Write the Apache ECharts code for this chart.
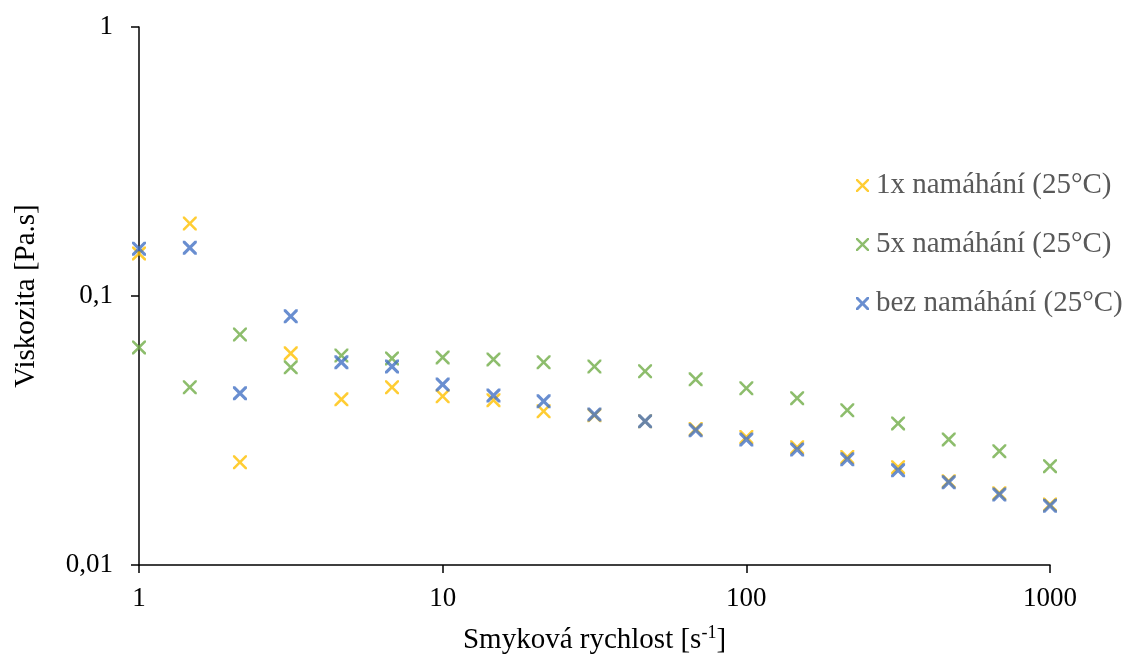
<!DOCTYPE html>
<html>
<head>
<meta charset="utf-8">
<script src="https://cdn.jsdelivr.net/npm/echarts@6/dist/echarts.min.js"></script>
<style>html,body{margin:0;padding:0;background:#fff}#c{width:1124px;height:657px}</style>
</head>
<body>
<div id="c"></div>
<script>
var shearRates = [1, 1.47, 2.15, 3.16, 4.64, 6.81, 10, 14.7, 21.5, 31.6, 46.4, 68.1, 100, 147, 215, 316, 464, 681, 1000];
var seriesNames = ['1x namáhání (25°C)', '5x namáhání (25°C)', 'bez namáhání (25°C)'];
var visc1x = [0.144, 0.186, 0.0241, 0.0612, 0.0413, 0.0458, 0.0424, 0.0410, 0.0373, 0.0360, 0.0342, 0.0320, 0.0299, 0.0274, 0.0252, 0.0231, 0.0205, 0.0185, 0.0168];
var visc5x = [0.0644, 0.0458, 0.0719, 0.0543, 0.0601, 0.0586, 0.0591, 0.0581, 0.0567, 0.0547, 0.0525, 0.0490, 0.0454, 0.0417, 0.0376, 0.0336, 0.0293, 0.0265, 0.0233];
var viscNone = [0.150, 0.151, 0.0435, 0.0840, 0.0567, 0.0547, 0.0469, 0.0427, 0.0406, 0.0363, 0.0342, 0.0317, 0.0293, 0.0269, 0.0247, 0.0225, 0.0203, 0.0183, 0.0166];
var xTicks = [1, 10, 100, 1000];
var yTickLabels = {'0.01': '0,01', '0.1': '0,1', '1': '1'};

function pairs(xs, ys) { return xs.map(function (x, i) { return [x, ys[i]]; }); }

var thinX = 'path://M0,0 L2.6,0 L10,7.4 L17.4,0 L20,0 L20,2.6 L12.6,10 L20,17.4 L20,20 L17.4,20 L10,12.6 L2.6,20 L0,20 L0,17.4 L7.4,10 L0,2.6 Z';
var thickX = 'path://M0,0 L3.2,0 L10,6.8 L16.8,0 L20,0 L20,3.2 L13.2,10 L20,16.8 L20,20 L16.8,20 L10,13.2 L3.2,20 L0,20 L0,16.8 L6.8,10 L0,3.2 Z';

var font = '"Liberation Serif", "Times New Roman", serif';
var chart = echarts.init(document.getElementById('c'));
chart.setOption({
  animation: false,
  textStyle: { fontFamily: font },
  grid: { left: 139, right: 74, top: 27, bottom: 92, outerBoundsMode: 'none', containLabel: false },
  legend: {
    orient: 'vertical',
    left: 851,
    top: 166,
    itemGap: 30,
    itemWidth: 13,
    itemHeight: 13,
    textStyle: { fontFamily: font, fontSize: 29, color: '#595959', padding: [0, 0, 0, 2] },
    data: seriesNames
  },
  xAxis: {
    type: 'log',
    logBase: 10,
    min: 1,
    max: 1000,
    name: 'Smyková rychlost [s{sup|-1}]',
    nameLocation: 'middle',
    nameGap: 59,
    nameTextStyle: {
      fontFamily: font, fontSize: 29, color: '#000',
      rich: { sup: { fontFamily: font, fontSize: 18, color: '#000', padding: [0, 0, 14, 0] } }
    },
    axisLine: { lineStyle: { color: '#000', width: 1.5 } },
    axisTick: { show: true, length: 8, lineStyle: { color: '#000', width: 1.5 } },
    axisLabel: { fontFamily: font, fontSize: 27, color: '#000', margin: 20,
      formatter: function (v) { return String(+(+v).toPrecision(3)); } },
    splitLine: { show: false },
    minorTick: { show: false }
  },
  yAxis: {
    type: 'log',
    logBase: 10,
    min: 0.01,
    max: 1,
    name: 'Viskozita [Pa.s]',
    nameLocation: 'middle',
    nameGap: 98,
    nameTextStyle: { fontFamily: font, fontSize: 29, color: '#000' },
    axisLine: { show: true, lineStyle: { color: '#000', width: 1.5 } },
    axisTick: { show: true, length: 8, lineStyle: { color: '#000', width: 1.5 } },
    axisLabel: { fontFamily: font, fontSize: 27, color: '#000', margin: 26,
      formatter: function (v) { var k = String(+(+v).toPrecision(3)); return yTickLabels[k] || k.replace('.', ','); } },
    splitLine: { show: false }
  },
  series: [
    { name: seriesNames[0], type: 'scatter', symbol: thinX, symbolSize: 14,
      itemStyle: { color: '#FFC000' }, data: pairs(shearRates, visc1x), z: 2 },
    { name: seriesNames[1], type: 'scatter', symbol: thinX, symbolSize: 14,
      itemStyle: { color: '#70AD47' }, data: pairs(shearRates, visc5x), z: 3 },
    { name: seriesNames[2], type: 'scatter', symbol: thickX, symbolSize: 14,
      itemStyle: { color: '#4472C4' }, data: pairs(shearRates, viscNone), z: 4 }
  ]
});
</script>
</body>
</html>
